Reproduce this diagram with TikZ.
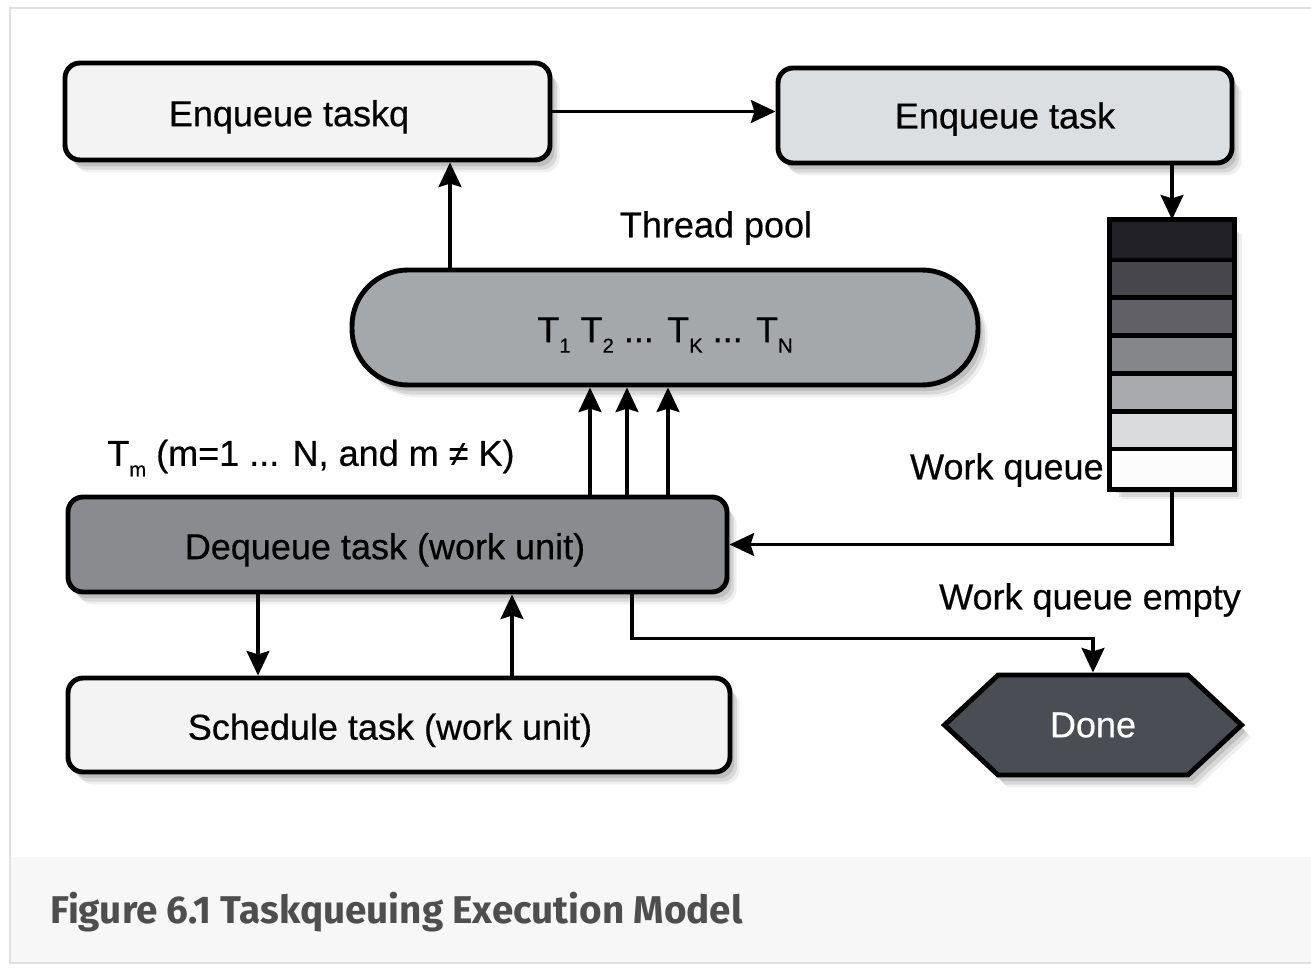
\documentclass[tikz,border=0pt]{standalone}
\usepackage{fontspec}
\setmainfont[FakeBold=0.5]{Liberation Sans}
\newfontfamily\capfont{Fira Sans}
\usetikzlibrary{shadows,shapes.symbols,arrows.meta}

% small lowered index used in the thread names
\newcommand\lowsub[1]{\raisebox{-0.55ex}{\fontsize{11.5}{12}\selectfont #1}}

\definecolor{boxlight}{RGB}{243,243,243}
\definecolor{boxblue}{RGB}{220,223,226}
\definecolor{poolgray}{RGB}{165,168,171}
\definecolor{deqgray}{RGB}{138,139,143}
\definecolor{donegray}{RGB}{74,77,83}
\definecolor{frameline}{RGB}{225,225,225}
\definecolor{capbg}{RGB}{247,247,247}
\definecolor{captext}{RGB}{78,78,78}
\definecolor{qa}{RGB}{32,32,38}
\definecolor{qb}{RGB}{70,70,76}
\definecolor{qc}{RGB}{96,96,102}
\definecolor{qd}{RGB}{132,134,138}
\definecolor{qe}{RGB}{168,170,173}
\definecolor{qf}{RGB}{218,219,221}
\definecolor{qg}{RGB}{252,252,252}

\begin{document}
\begin{tikzpicture}[x=0.02cm,y=-0.02cm,
  font=\fontsize{20.5}{24}\selectfont,
  softshadow/.style={
    drop shadow={shadow xshift=2.5pt, shadow yshift=-3.5pt, opacity=.28},
    drop shadow={shadow xshift=4pt, shadow yshift=-5.5pt, opacity=.2},
    drop shadow={shadow xshift=5.5pt, shadow yshift=-7pt, opacity=.12}},
  boxbase/.style={draw=black, line width=2.8pt, rounded corners=0.3cm,
    inner sep=0pt, text height=21pt, text depth=4.3pt, softshadow},
  size/.style 2 args={minimum width=#1*0.02cm, minimum height=#2*0.02cm},
  arr/.style={line width=2pt, -{Stealth[length=14pt,width=13pt,inset=2pt]}},
  lbl/.style={inner sep=0pt}]

\useasboundingbox (0,0) rectangle (1311,969);

% page frame and caption panel
\fill[white] (0,0) rectangle (1311,969);
\fill[capbg] (11,857) rectangle (1311,962);
\draw[frameline, line width=1pt] (1311,8) -- (10,8) -- (10,963) -- (1311,963);

% boxes
\node[boxbase, size={485}{97}, fill=boxlight] (taskq) at (307.5,111.5)
  {\hspace*{-0.74cm}Enqueue taskq};
\node[boxbase, size={454}{95}, fill=boxblue, text height=19pt] (task) at (1005,115.5)
  {Enqueue task};
\node[boxbase, size={626}{115}, rounded corners=1.12cm, fill=poolgray] (pool) at (665,327.5)
  {T\lowsub{1} T\lowsub{2} ... T\lowsub{K} ... T\lowsub{N}};
\node[boxbase, size={659}{95}, fill=deqgray] (deq) at (397.5,544.5)
  {\hspace*{-0.5cm}Dequeue task (work unit)};
\node[boxbase, size={662}{94}, fill=boxlight] (sched) at (399,725)
  {\hspace*{-0.36cm}Schedule task (work unit)};
\node[signal, signal to=east and west, signal pointer angle=86,
  draw=black, line width=2.8pt, fill=donegray, text=white, inner sep=0pt,
  size={297}{100}, softshadow] (done) at (1093,725) {Done};

% work queue: a column of seven cells from dark to light
\node[draw=black, line width=2.8pt, fill=white, inner sep=0pt,
  size={120}{265}, softshadow] (wq) at (1172,354.5) {};
\foreach \c [count=\i from 0] in {qa,qb,qc,qd,qe,qf,qg}
  \fill[\c] (1112,{222+\i*37.857}) rectangle (1232,{222+(\i+1)*37.857});
\foreach \i in {1,...,6}
  \draw[line width=2.6pt] (1112,{222+\i*37.857}) -- (1232,{222+\i*37.857});
\draw[line width=2.8pt] (wq.north west) rectangle (wq.south east);

% labels
\node[lbl] (tpl) at (716,228) {Thread pool};
\node[lbl, anchor=east] (wql) at (1104,470) {Work queue};
\node[lbl, anchor=west] (tml) at (107,458) {T\lowsub{m} (m=1 ... N, and m ≠ K)};
\node[lbl] (wqe) at (1090,600) {Work queue empty};
\node[lbl, anchor=west, text=captext, font=\capfont\bfseries\fontsize{22}{24}\selectfont]
  (cap) at (50,912) {Figure 6.1 Taskqueuing Execution Model};

% anchors for vertical connectors
\coordinate (xa) at (450,0);
\coordinate (xb) at (590,0);
\coordinate (xc) at (627,0);
\coordinate (xd) at (668,0);
\coordinate (xe) at (258,0);
\coordinate (xf) at (512,0);
\coordinate (xg) at (632,0);

% connectors
\draw[arr] (taskq.east) -- (taskq.east -| task.west);
\draw[arr] (task.south -| wq.north) -- (wq.north);
\draw[arr] (pool.north -| xa) -- (taskq.south -| xa);
\foreach \p in {xb,xc,xd}
  \draw[arr] (deq.north -| \p) -- (pool.south -| \p);
\draw[arr] (wq.south) |- (deq.east);
\draw[arr] (deq.south -| xe) -- (sched.north -| xe);
\draw[arr] (sched.north -| xf) -- (deq.south -| xf);
\draw[arr] (deq.south -| xg) -- ++(0,44) -| (done.north);

\end{tikzpicture}
\end{document}
